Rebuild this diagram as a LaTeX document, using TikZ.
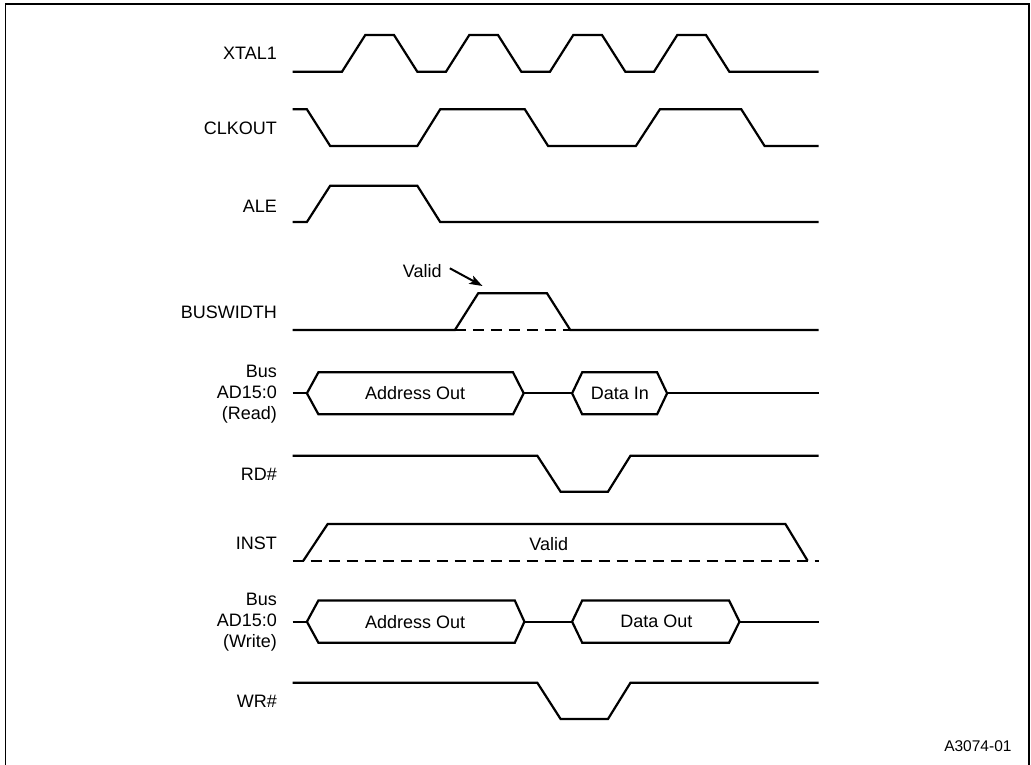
\documentclass[tikz,border=0pt]{standalone}
\usepackage{fontspec}
\setmainfont{Liberation Sans}
\usetikzlibrary{positioning,calc}
\usetikzlibrary{arrows.meta}
\tikzset{
  sig/.style={draw=black,line width=2.2pt,line join=miter},
  undef/.style={draw=black,line width=2.2pt,dash pattern=on 11pt off 7pt},
  lab/.style={anchor=east,align=right,inner sep=0pt,font=\fontsize{18}{21}\selectfont},
}
\tikzset{txt/.style={inner sep=0pt,font=\fontsize{18}{21}\selectfont}, pointer/.style={draw=black,line width=2pt,-{Stealth[length=13pt,width=9pt,inset=3pt]}}}

\begin{document}
\begin{tikzpicture}[x=1pt,y=-1pt]
\useasboundingbox (0,0) rectangle (1031,765);
\draw[line width=1.5pt] (5.5,770) -- (5.5,4) -- (1029,4) -- (1029,770);
% signal names
\node[lab] (lxtal) at (277,53.3) {XTAL1};
\node[lab] (lclk) at (277,128) {CLKOUT};
\node[lab] (lale) at (277,206.5) {ALE};
\node[lab] (lbw) at (277,312) {BUSWIDTH};
\node[lab] (lrdbus) at (277,394) {Bus\\AD15:0\\(Read)};
\node[lab] (lrd) at (277,474) {RD\#};
\node[lab] (linst) at (277,543) {INST};
\node[lab] (lwrbus) at (277,622.5) {Bus\\AD15:0\\(Write)};
\node[lab] (lwr) at (277,701) {WR\#};
\node[lab,font=\fontsize{15.5}{18}\selectfont] (figid) at (1011.7,746) {A3074-01};
% XTAL1
\draw[sig] (292.5,71.7) -- (342,71.7) -- (365.3,35) -- (394,35) -- (417.3,71.7) -- (446,71.7) -- (469.3,35) -- (498,35) -- (521.3,71.7) -- (550,71.7) -- (573.3,35) -- (602,35) -- (625.3,71.7) -- (654,71.7) -- (677.3,35) -- (706,35) -- (729.3,71.7) -- (818.7,71.7);
% CLKOUT
\draw[sig] (292.5,109.3) -- (306.9,109.3) -- (330.2,146) -- (417.3,146) -- (440.2,109.3) -- (524.8,109.3) -- (548.1,146) -- (635.9,146) -- (659.9,109.3) -- (741.3,109.3) -- (764.6,146) -- (818.7,146);
% ALE
\draw[sig] (292.5,222) -- (306.9,222) -- (330.2,185.7) -- (417.3,185.7) -- (440.2,222) -- (818.7,222);
% BUSWIDTH
\draw[sig] (292.5,330) -- (454.9,330) -- (478.2,293.3) -- (547,293.3) -- (570.3,330) -- (818.7,330);
\draw[undef] (454.9,330) -- (570.3,330);
\node[txt] (bwvalid) at (422.3,271) {Valid};
\coordinate (bwtip) at (482.5,286);
\draw[pointer] ($(bwvalid.east)+(8,-2.7)$) -- (bwtip);
% bus, read cycle
\draw[sig] (292.5,393.3) -- (306.9,393.3);
\draw[sig] (306.9,393.3) -- (318.4,372.3) -- (513,372.3) -- (523.7,393.3) -- (513,414.3) -- (318.4,414.3) -- cycle;
\draw[sig] (523.7,393.3) -- (572.1,393.3);
\draw[sig] (572.1,393.3) -- (582.2,372.3) -- (657.1,372.3) -- (667.1,393.3) -- (657.1,414.3) -- (582.2,414.3) -- cycle;
\draw[sig] (667.1,393.3) -- (818.7,393.3);
\node[txt] (rdaddr) at (415.1,393.3) {Address Out};
\node[txt] (rddata) at (619.8,393.3) {Data In};
% RD#
\draw[sig] (292.5,455.7) -- (537.3,455.7) -- (560.6,491.7) -- (608,491.7) -- (630.5,455.7) -- (818.7,455.7);
% INST
\draw[undef] (292.5,560.7) -- (818.7,560.7);
\draw[sig] (303.3,560.7) -- (327.7,524) -- (785.4,524) -- (807.6,560.7);
\node[txt] (instvalid) at (548.8,544.3) {Valid};
% bus, write cycle
\draw[sig] (292.5,621.7) -- (306.9,621.7);
\draw[sig] (306.9,621.7) -- (318.4,600.5) -- (514.8,600.5) -- (524.4,621.7) -- (514.8,642.7) -- (318.4,642.7) -- cycle;
\draw[sig] (524.4,621.7) -- (572.1,621.7);
\draw[sig] (572.1,621.7) -- (582.2,600.5) -- (729.1,600.5) -- (739.5,621.7) -- (729.1,642.7) -- (582.2,642.7) -- cycle;
\draw[sig] (739.5,621.7) -- (818.7,621.7);
\node[txt] (wraddr) at (415.1,621.7) {Address Out};
\node[txt] (wrdata) at (656.3,621.7) {Data Out};
% WR#
\draw[sig] (292.5,682.7) -- (537.3,682.7) -- (560.6,719) -- (608,719) -- (630.5,682.7) -- (818.7,682.7);
\end{tikzpicture}
\end{document}
